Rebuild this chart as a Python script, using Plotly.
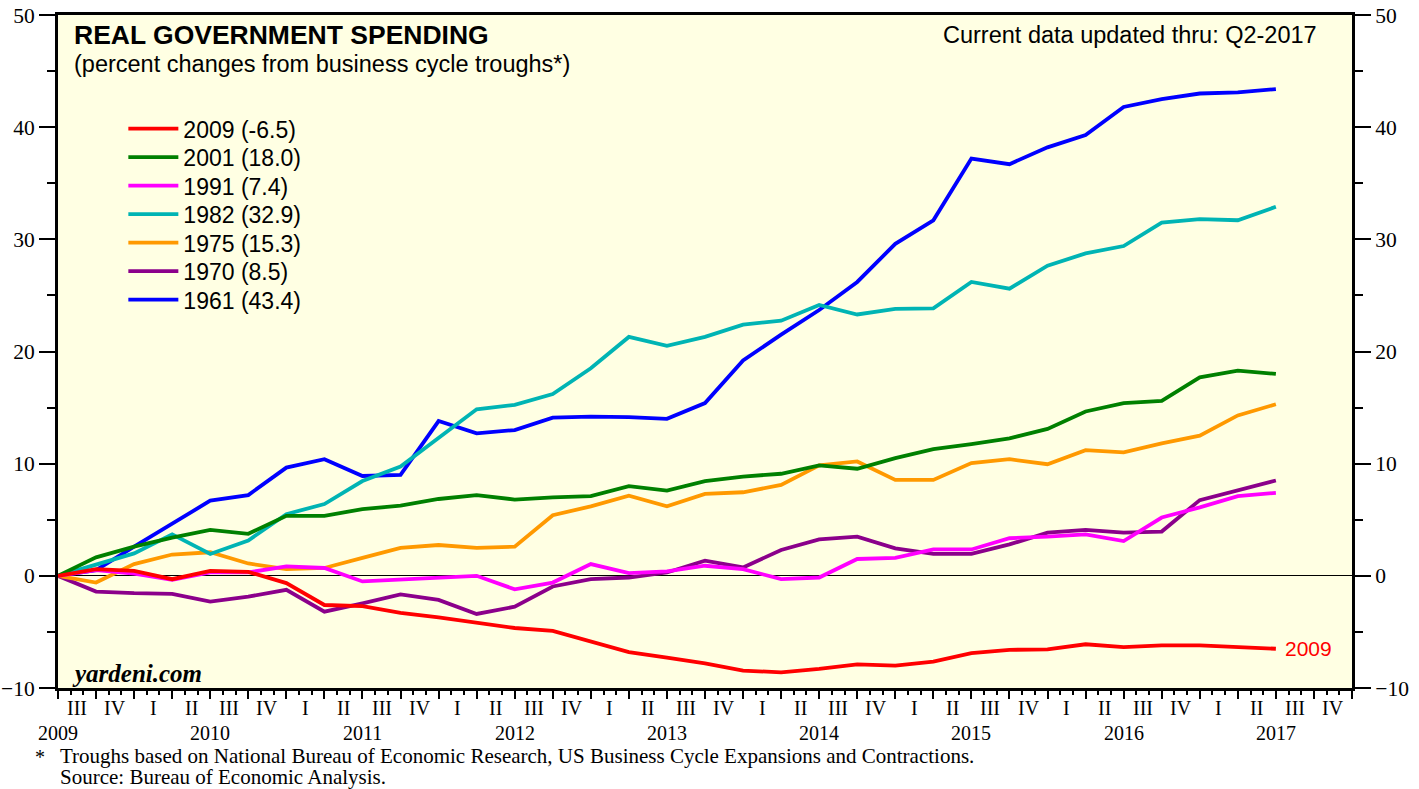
import plotly.graph_objects as go

# ---------------- data ----------------
quarter_index = list(range(33))  # 0 = 2009 Q2 (trough) ... 32 = 2017 Q2

cycle_names = ["1961 (43.4)", "1970 (8.5)", "1975 (15.3)", "1982 (32.9)",
               "1991 (7.4)", "2001 (18.0)", "2009 (-6.5)"]
cycle_colors = ["#0000FF", "#8B008B", "#FF9900", "#00B4B4",
                "#FF00FF", "#008000", "#FF0000"]
legend_rank = [6, 5, 4, 3, 2, 1, 0]  # row in the legend (0 = top)

s1961 = [0, 0.5, 2.6, 4.7, 6.7, 7.2, 9.65, 10.4, 8.9, 9.0, 13.8, 12.7, 13.0, 14.1, 14.2,
         14.15, 14.0, 15.4, 19.2, 21.5, 23.7, 26.2, 29.6, 31.7, 37.2, 36.7, 38.2, 39.3,
         41.8, 42.5, 43.0, 43.1, 43.4]
s1970 = [0, -1.4, -1.55, -1.6, -2.3, -1.85, -1.25, -3.2, -2.45, -1.65, -2.15, -3.4, -2.75,
         -0.95, -0.3, -0.15, 0.3, 1.35, 0.75, 2.3, 3.25, 3.5, 2.45, 1.95, 1.95, 2.8, 3.85,
         4.1, 3.85, 3.95, 6.75, 7.6, 8.5]
s1975 = [0, -0.6, 1.05, 1.9, 2.1, 1.1, 0.6, 0.7, 1.6, 2.5, 2.75, 2.5, 2.6, 5.4, 6.2, 7.15,
         6.2, 7.3, 7.45, 8.1, 9.85, 10.2, 8.55, 8.55, 10.05, 10.4, 9.95, 11.2, 11.0, 11.8,
         12.5, 14.3, 15.3]
s1982 = [0, 1.0, 2.0, 3.7, 1.95, 3.15, 5.5, 6.4, 8.45, 9.75, 12.35, 14.85, 15.25, 16.2,
         18.5, 21.3, 20.5, 21.3, 22.4, 22.75, 24.15, 23.3, 23.8, 23.85, 26.2, 25.6, 27.65,
         28.75, 29.4, 31.5, 31.8, 31.7, 32.9]
s1991 = [0, 0.5, 0.2, -0.35, 0.3, 0.3, 0.85, 0.7, -0.5, -0.35, -0.2, 0.0, -1.2, -0.6, 1.05,
         0.25, 0.4, 0.9, 0.6, -0.3, -0.15, 1.5, 1.6, 2.35, 2.35, 3.35, 3.5, 3.7, 3.1, 5.2,
         6.1, 7.1, 7.4]
s2001 = [0, 1.65, 2.6, 3.4, 4.1, 3.75, 5.35, 5.35, 5.95, 6.25, 6.85, 7.2, 6.8, 7.0, 7.1,
         8.0, 7.6, 8.45, 8.85, 9.1, 9.85, 9.55, 10.5, 11.3, 11.75, 12.25, 13.1, 14.65,
         15.4, 15.6, 17.7, 18.3, 18.0]
s2009 = [0, 0.6, 0.45, -0.3, 0.45, 0.35, -0.65, -2.6, -2.7, -3.3, -3.7, -4.15, -4.65, -4.9,
         -5.85, -6.8, -7.3, -7.8, -8.45, -8.6, -8.3, -7.9, -8.0, -7.65, -6.9, -6.6, -6.55,
         -6.1, -6.35, -6.2, -6.2, -6.35, -6.5]
cycle_series = [s1961, s1970, s1975, s1982, s1991, s2001, s2009]

quarter_labels = ["III", "IV"] + ["I", "II", "III", "IV"] * 8
quarter_label_pos = [i + 0.5 for i in range(len(quarter_labels))]
year_labels = ["2009", "2010", "2011", "2012", "2013", "2014", "2015", "2016", "2017"]
year_label_pos = [4 * k for k in range(len(year_labels))]

y_ticks = [-10, 0, 10, 20, 30, 40, 50]

SANS = "Liberation Sans, Arial, Helvetica, sans-serif"
SERIF = "Liberation Serif, Times New Roman, serif"

fig = go.Figure()
legend_layouts = {}
for name, color, vals, rank in zip(cycle_names, cycle_colors, cycle_series, legend_rank):
    lname = "legend" if rank == 0 else f"legend{rank + 1}"
    fig.add_trace(go.Scatter(x=quarter_index, y=vals, mode="lines", name=name,
                             legend=lname, line=dict(color=color, width=3.8)))
    legend_layouts[lname] = dict(
        x=0.0505, y=0.8310 - rank * 0.04235, xanchor="left", yanchor="middle",
        bgcolor="rgba(0,0,0,0)", borderwidth=0,
        font=dict(family=SANS, size=23, color="black"), itemwidth=50)

# right-side axis (mirror of left)
fig.add_trace(go.Scatter(x=[quarter_index[0]], y=[0], yaxis="y2", mode="lines",
                         showlegend=False, hoverinfo="skip", line=dict(width=0)))

annotations = []
for lab, pos in zip(quarter_labels, quarter_label_pos):
    annotations.append(dict(x=pos, y=0, xref="x", yref="paper", text=lab, showarrow=False,
                            xanchor="center", yanchor="middle", yshift=-20,
                            font=dict(family=SERIF, size=20, color="black")))
for lab, pos in zip(year_labels, year_label_pos):
    annotations.append(dict(x=pos, y=0, xref="x", yref="paper", text=lab, showarrow=False,
                            xanchor="center", yanchor="middle", yshift=-45,
                            font=dict(family=SERIF, size=20, color="black")))

annotations += [
    dict(x=0.0108, y=0.970, xref="paper", yref="paper", xanchor="left", yanchor="middle",
         text="<b>REAL GOVERNMENT SPENDING</b>", showarrow=False,
         font=dict(family=SANS, size=26.5, color="black")),
    dict(x=0.0108, y=0.9265, xref="paper", yref="paper", xanchor="left", yanchor="middle",
         text="(percent changes from business cycle troughs*)", showarrow=False,
         font=dict(family=SANS, size=23.5, color="black")),
    dict(x=0.9745, y=0.970, xref="paper", yref="paper", xanchor="right", yanchor="middle",
         text="Current data updated thru: Q2-2017", showarrow=False,
         font=dict(family=SANS, size=23.5, color="black")),
    dict(x=0.009, y=0.022, xref="paper", yref="paper", xanchor="left", yanchor="middle",
         text="<b><i>yardeni.com</i></b>", showarrow=False,
         font=dict(family=SERIF, size=25, color="black")),
    dict(x=quarter_index[-1], y=s2009[-1], xref="x", yref="y", xanchor="left",
         yanchor="middle", xshift=7, text="2009", showarrow=False,
         font=dict(family=SANS, size=21, color="#FF0000")),
    dict(x=-0.0139, y=0, xref="paper", yref="paper", xanchor="center", yanchor="middle",
         yshift=-69, text="*", showarrow=False,
         font=dict(family=SERIF, size=20, color="black")),
    dict(x=0, y=0, xref="paper", yref="paper", xanchor="left", yanchor="middle",
         yshift=-68,
         text="Troughs based on National Bureau of Economic Research, US Business Cycle Expansions and Contractions.",
         showarrow=False, font=dict(family=SERIF, size=21, color="black")),
    dict(x=0, y=0, xref="paper", yref="paper", xanchor="left", yanchor="middle",
         yshift=-89, text="Source: Bureau of Economic Analysis.", showarrow=False,
         font=dict(family=SERIF, size=21, color="black")),
]

yaxis_common = dict(range=[-10, 50], tickvals=y_ticks, ticks="outside", ticklen=16,
                    tickwidth=1.5, tickcolor="black", showgrid=False, automargin=False,
                    tickfont=dict(family=SERIF, size=21.5, color="black"),
                    minor=dict(dtick=5, tick0=0, ticks="outside", ticklen=8,
                               tickwidth=1.5, tickcolor="black", showgrid=False),
                    showline=True, linewidth=3, linecolor="black")

fig.update_layout(
    width=1419, height=789,
    margin=dict(l=58, r=67, t=15, b=101, autoexpand=False),
    paper_bgcolor="white", plot_bgcolor="#FFFFE3",
    showlegend=True,
    xaxis=dict(range=[0, 34], tick0=0, dtick=1, ticks="outside", ticklen=8,
               tickwidth=2, tickcolor="black", showticklabels=False, showgrid=False,
               zeroline=False, showline=True, linewidth=3, linecolor="black", mirror=True,
               automargin=False,
               minor=dict(dtick=1 / 3, tick0=0, ticks="outside", ticklen=4, tickwidth=2,
                          tickcolor="black", showgrid=False)),
    yaxis=dict(**yaxis_common, side="left", zeroline=True, zerolinecolor="black",
               zerolinewidth=1),
    yaxis2=dict(**yaxis_common, side="right", overlaying="y", zeroline=False),
    annotations=annotations,
)
fig.update_layout(**legend_layouts)

fig.write_html("out.html", config={"displayModeBar": False},
               post_script="document.body.style.margin='0';")
